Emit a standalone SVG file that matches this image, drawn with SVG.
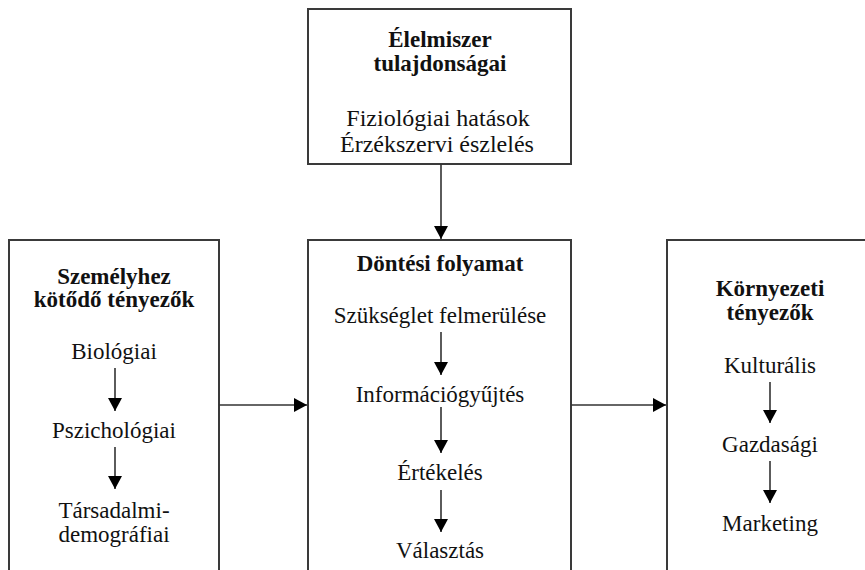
<svg xmlns="http://www.w3.org/2000/svg" width="865" height="570" viewBox="0 0 865 570">
<defs>
<style>
.box{fill:#fff;stroke:#3a3a3a;stroke-width:2}
.t{font-family:"Liberation Serif","Times New Roman",serif;font-size:23px;fill:#111;text-anchor:middle}
.b{font-weight:bold}
.big{font-size:24px}
.ln{stroke:#333;stroke-width:1.6;fill:none}
</style>
<marker id="ah" markerWidth="14" markerHeight="14" viewBox="0 0 14 14" refX="13" refY="7" orient="auto" markerUnits="userSpaceOnUse">
<path d="M0,0 L13,7 L0,14 Z" fill="#000"/>
</marker>
</defs>
<rect width="865" height="570" fill="#fff"/>
<g id="elelmiszer">
<rect class="box" x="308" y="9" width="263" height="155"/>
<text class="t b" x="440" y="47">Élelmiszer</text>
<text class="t b" x="440" y="71">tulajdonságai</text>
<text class="t big" x="438" y="126">Fiziológiai hatások</text>
<text class="t big" x="437" y="152">Érzékszervi észlelés</text>
</g>
<g id="szemelyhez">
<rect class="box" x="9" y="240" width="210" height="345"/>
<text class="t b" x="114" y="284">Személyhez</text>
<text class="t b" x="114" y="307">kötődő tényezők</text>
<text class="t" x="114" y="359">Biológiai</text>
<text class="t" x="114" y="438">Pszichológiai</text>
<text class="t" x="114" y="518">Társadalmi-</text>
<text class="t" x="114" y="542">demográfiai</text>
<line class="ln" x1="115" y1="368" x2="115" y2="411" marker-end="url(#ah)"/>
<line class="ln" x1="115" y1="447" x2="115" y2="489" marker-end="url(#ah)"/>
</g>
<g id="dontesi">
<rect class="box" x="308" y="240" width="263" height="345"/>
<text class="t b" x="440" y="271">Döntési folyamat</text>
<text class="t" x="440" y="323">Szükséglet felmerülése</text>
<text class="t" x="440" y="402">Információgyűjtés</text>
<text class="t" x="440" y="480">Értékelés</text>
<text class="t" x="440" y="558">Választás</text>
<line class="ln" x1="441" y1="332" x2="441" y2="375" marker-end="url(#ah)"/>
<line class="ln" x1="441" y1="407" x2="441" y2="453" marker-end="url(#ah)"/>
<line class="ln" x1="441" y1="490" x2="441" y2="532" marker-end="url(#ah)"/>
</g>
<g id="kornyezeti">
<rect class="box" x="667" y="240" width="220" height="345"/>
<text class="t b" x="770" y="296">Környezeti</text>
<text class="t b" x="770" y="320">tényezők</text>
<text class="t" x="770" y="373">Kulturális</text>
<text class="t" x="770" y="452">Gazdasági</text>
<text class="t" x="770" y="531">Marketing</text>
<line class="ln" x1="770" y1="382" x2="770" y2="423" marker-end="url(#ah)"/>
<line class="ln" x1="770" y1="461" x2="770" y2="503" marker-end="url(#ah)"/>
</g>
<g id="connectors">
<line class="ln" x1="441" y1="164" x2="441" y2="239" marker-end="url(#ah)"/>
<line class="ln" x1="219" y1="405" x2="307" y2="405" marker-end="url(#ah)"/>
<line class="ln" x1="571" y1="405" x2="666" y2="405" marker-end="url(#ah)"/>
</g>
</svg>
